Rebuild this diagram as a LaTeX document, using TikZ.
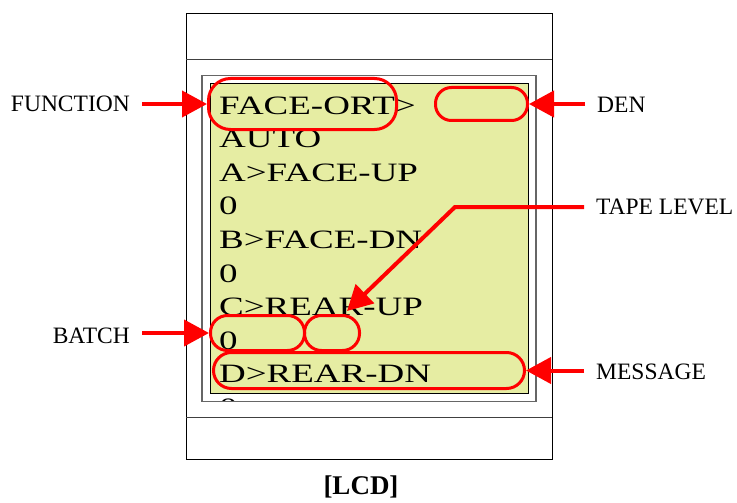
\documentclass[tikz,border=0pt]{standalone}
\usepackage{fontspec}
\setmainfont{Liberation Serif}
\usetikzlibrary{arrows.meta,calc}
\definecolor{lcdgreen}{RGB}{230,237,163}
\begin{document}
\begin{tikzpicture}[x=1pt,y=-1pt,
  lcdtext/.style={anchor=base west, inner sep=0, font=\fontsize{26.5}{26.5}\selectfont},
  callout/.style={inner sep=0, font=\fontsize{23.5}{23.5}\selectfont},
  oval/.style={draw=red, line width=3pt, inner sep=0},
  pointer/.style={draw=red, line width=4pt, -{Triangle[length=25pt,width=26pt]}},
]
\useasboundingbox (0,0) rectangle (737,503);
% housing
\draw[line width=1pt] (186,14) rectangle (552,459);
\draw[line width=1pt, draw=black!75] (186,60) -- (552,60);
\draw[line width=1pt, draw=black!75] (186,417) -- (552,417);
\draw[line width=1.5pt, draw=black!60] (202,75.5) rectangle (536,401.5);
\draw[fill=lcdgreen, line width=0.8pt] (210,83.5) rectangle (528.5,393);
% display text
\begin{scope}
\clip (203,76.5) rectangle (535,400.5);
\node[lcdtext] (t1) at (219,114) {\scalebox{1.395}[1]{FACE-ORT>}};
\node[lcdtext] (t2) at (219,147.6) {\scalebox{1.395}[1]{AUTO}};
\node[lcdtext] (t3) at (219,181.2) {\scalebox{1.395}[1]{A>FACE-UP}};
\node[lcdtext] (t4) at (219,214.8) {\scalebox{1.395}[1]{0}};
\node[lcdtext] (t5) at (219,248.4) {\scalebox{1.395}[1]{B>FACE-DN}};
\node[lcdtext] (t6) at (219,282) {\scalebox{1.395}[1]{0}};
\node[lcdtext] (t7) at (219,315.6) {\scalebox{1.395}[1]{C>REAR-UP}};
\node[lcdtext] (t8) at (219,349.2) {\scalebox{1.395}[1]{0}};
\node[lcdtext] (t9) at (219,382.8) {\scalebox{1.395}[1]{D>REAR-DN}};
\node[lcdtext] (t10) at (219,416.4) {\scalebox{1.395}[1]{0}};
\end{scope}
% ovals
\node[oval, minimum width=188pt, minimum height=51pt, rounded corners=22pt] (funcoval) at (302.5,104) {};
\node[oval, minimum width=92pt, minimum height=33pt, rounded corners=16pt] (denoval) at (481.5,104) {};
\node[oval, minimum width=94pt, minimum height=35pt, rounded corners=17pt] (batchoval) at (257.5,333) {};
\node[oval, minimum width=55pt, minimum height=35pt, rounded corners=17pt] (tapeoval) at (332,333) {};
\node[oval, minimum width=311pt, minimum height=36pt, rounded corners=18pt] (msgoval) at (369,370.5) {};
% labels
\node[callout, anchor=east] (function) at (130,104) {FUNCTION};
\node[callout, anchor=east] (batch) at (130,336) {BATCH};
\node[callout, anchor=west] (den) at (597,105) {DEN};
\node[callout, anchor=west] (tape) at (596,207) {TAPE LEVEL};
\node[callout, anchor=west] (message) at (596,372) {MESSAGE};
\node[inner sep=0, font=\bfseries\fontsize{27}{27}\selectfont] (caption) at (361,487) {[LCD]};
% pointers
\draw[pointer, shorten <=12pt] (function.east |- funcoval.west) -- (funcoval.west);
\draw[pointer, shorten <=12pt] (den.west |- denoval.east) -- (denoval.east);
\draw[pointer, shorten <=12pt] (batch.east |- batchoval.west) -- (batchoval.west);
\draw[pointer, shorten <=12pt] (message.west |- msgoval.east) -- (msgoval.east);
\coordinate (bend) at (455,207);
\draw[pointer, shorten <=12pt] (tape.west) -- (bend) -- ($(tapeoval.north)+(15,-3)$);
\end{tikzpicture}
\end{document}
